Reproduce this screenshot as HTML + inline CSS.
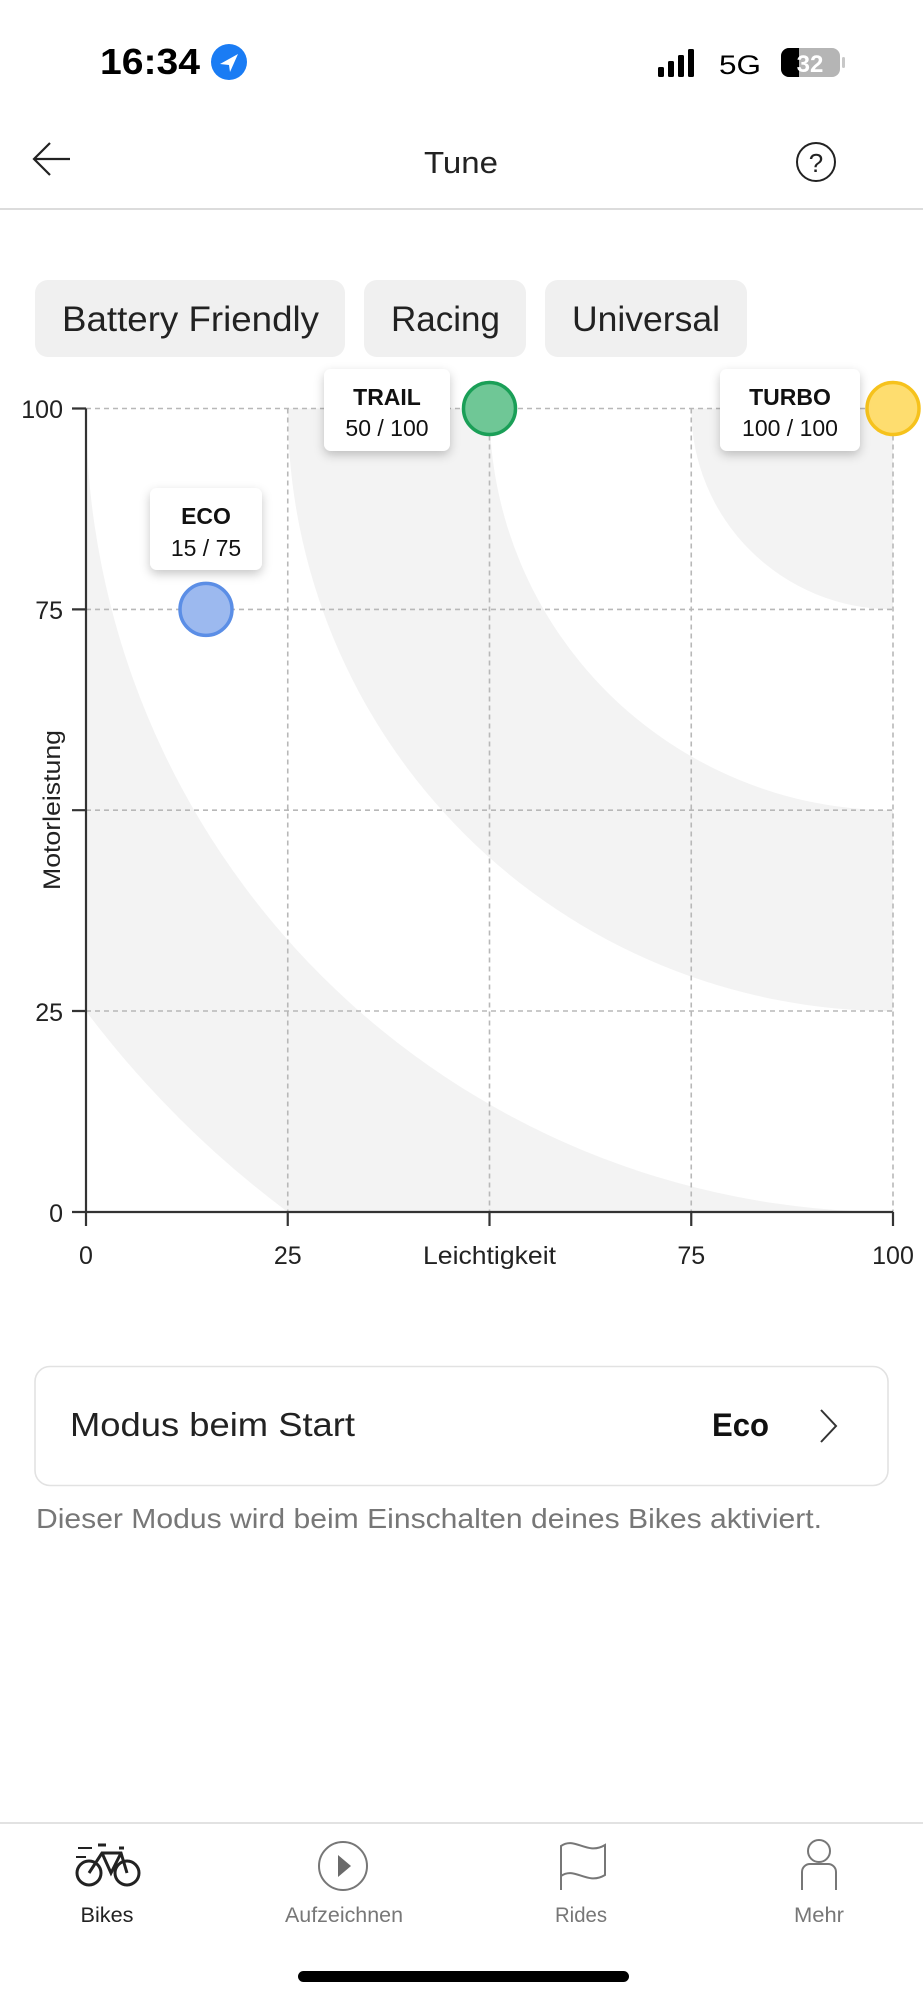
<!DOCTYPE html>
<html><head><meta charset="utf-8"><style>
html,body{margin:0;padding:0;background:#fff;width:923px;height:2000px;overflow:hidden}
svg{display:block}
text{font-family:"Liberation Sans",sans-serif}
</style></head><body>
<svg width="923" height="2000" viewBox="0 0 923 2000" xmlns="http://www.w3.org/2000/svg">
<defs>
<clipPath id="pc"><rect x="86" y="408.5" width="807" height="803.5"/></clipPath>
<filter id="sh" x="-30%" y="-30%" width="160%" height="170%"><feDropShadow dx="0" dy="4" stdDeviation="5" flood-color="#000" flood-opacity="0.22"/></filter>
</defs>
<!-- status bar -->
<text x="100" y="74" font-size="36" font-weight="bold" fill="#000" textLength="100" lengthAdjust="spacingAndGlyphs">16:34</text>
<circle cx="229" cy="62" r="18" fill="#1a7cf4"/>
<path d="M220 64 L238 54 L230 72 L229 65 Z" fill="#fff"/>
<rect x="658" y="67" width="6" height="10" rx="1.5" fill="#000"/>
<rect x="668" y="61" width="6" height="16" rx="1.5" fill="#000"/>
<rect x="678" y="55" width="6" height="22" rx="1.5" fill="#000"/>
<rect x="688" y="49" width="6" height="28" rx="1.5" fill="#000"/>
<text x="719" y="74" font-size="27" fill="#000" textLength="42" lengthAdjust="spacingAndGlyphs">5G</text>
<rect x="781" y="48" width="59" height="29" rx="8" fill="#b5b5b5"/>
<path d="M789 48 H799 V77 H789 A8 8 0 0 1 781 69 V56 A8 8 0 0 1 789 48Z" fill="#000"/>
<text x="810" y="72" font-size="24" font-weight="bold" fill="#fff" text-anchor="middle">32</text>
<rect x="842" y="57" width="3" height="11" rx="1.5" fill="#c8c8c8"/>
<!-- header -->
<path d="M70 159 H34 M50 143 L34 159 L50 175" stroke="#222" stroke-width="2.2" fill="none"/>
<text x="461" y="173" font-size="31" fill="#222" text-anchor="middle" textLength="74" lengthAdjust="spacingAndGlyphs">Tune</text>
<circle cx="816" cy="162" r="19" stroke="#222" stroke-width="2" fill="none"/>
<text x="816" y="172" font-size="26" fill="#222" text-anchor="middle">?</text>
<rect x="0" y="208" width="923" height="2" fill="#dcdcdc"/>
<!-- chips -->
<rect x="35" y="280" width="310" height="77" rx="13" fill="#f0f0f0"/>
<rect x="364" y="280" width="162" height="77" rx="13" fill="#f0f0f0"/>
<rect x="545" y="280" width="202" height="77" rx="13" fill="#f0f0f0"/>
<text x="62" y="331" font-size="35" fill="#222" textLength="257" lengthAdjust="spacingAndGlyphs">Battery Friendly</text>
<text x="391" y="331" font-size="35" fill="#222" textLength="109" lengthAdjust="spacingAndGlyphs">Racing</text>
<text x="572" y="331" font-size="35" fill="#222" textLength="148" lengthAdjust="spacingAndGlyphs">Universal</text>
<!-- bands -->
<g clip-path="url(#pc)" fill="#f3f3f3" fill-rule="evenodd">
<path d="M893 408.5 m-1008.75 0 a1008.75 1004.4 0 1 0 2017.5 0 a1008.75 1004.4 0 1 0 -2017.5 0 Z M893 408.5 m-807 0 a807 803.5 0 1 0 1614 0 a807 803.5 0 1 0 -1614 0 Z"/>
<path d="M893 408.5 m-605.25 0 a605.25 602.6 0 1 0 1210.5 0 a605.25 602.6 0 1 0 -1210.5 0 Z M893 408.5 m-403.5 0 a403.5 401.75 0 1 0 807 0 a403.5 401.75 0 1 0 -807 0 Z"/>
<ellipse cx="893" cy="408.5" rx="201.75" ry="200.9"/>
</g>
<!-- grid -->
<g stroke="#b8b8b8" stroke-width="1.6" stroke-dasharray="5 4" fill="none">
<path d="M86 408.5 H893 M86 609.4 H893 M86 810.2 H893 M86 1011 H893"/>
<path d="M287.75 408.5 V1212 M489.5 408.5 V1212 M691.25 408.5 V1212 M893 408.5 V1212"/>
</g>
<!-- axes -->
<g stroke="#333" stroke-width="2.2" fill="none">
<path d="M86 408.5 V1212 H893"/>
<path d="M72 408.5 H86 M72 609.4 H86 M72 810.2 H86 M72 1011 H86 M72 1212 H86"/>
<path d="M86 1212 V1226 M287.75 1212 V1226 M489.5 1212 V1226 M691.25 1212 V1226 M893 1212 V1226"/>
</g>
<g font-size="25" fill="#222">
<text x="63" y="418" text-anchor="end">100</text>
<text x="63" y="619" text-anchor="end">75</text>
<text x="63" y="1021" text-anchor="end">25</text>
<text x="63" y="1222" text-anchor="end">0</text>
<text x="86" y="1264" text-anchor="middle">0</text>
<text x="287.75" y="1264" text-anchor="middle">25</text>
<text x="489.5" y="1264" text-anchor="middle" textLength="133" lengthAdjust="spacingAndGlyphs">Leichtigkeit</text>
<text x="691.25" y="1264" text-anchor="middle">75</text>
<text x="893" y="1264" text-anchor="middle">100</text>
</g>
<text transform="translate(60 810) rotate(-90)" font-size="24" fill="#222" text-anchor="middle" textLength="160" lengthAdjust="spacingAndGlyphs">Motorleistung</text>
<!-- points -->
<circle cx="206" cy="609.4" r="26" fill="#9cb9ef" stroke="#5b8ee6" stroke-width="3.5"/>
<circle cx="489.5" cy="408.5" r="26" fill="#6fc796" stroke="#1a9f57" stroke-width="3.5"/>
<circle cx="893" cy="408.5" r="26" fill="#fedd6f" stroke="#f6c21c" stroke-width="3.5"/>
<!-- tooltips -->
<g filter="url(#sh)" fill="#fff">
<rect x="150" y="488" width="112" height="82" rx="7"/>
<rect x="324" y="369" width="126" height="82" rx="7"/>
<rect x="720" y="369" width="140" height="82" rx="7"/>
</g>
<g font-size="23" fill="#111" text-anchor="middle">
<text x="206" y="524" font-weight="bold">ECO</text>
<text x="206" y="556">15 / 75</text>
<text x="387" y="405" font-weight="bold">TRAIL</text>
<text x="387" y="436">50 / 100</text>
<text x="790" y="405" font-weight="bold">TURBO</text>
<text x="790" y="436">100 / 100</text>
</g>
<!-- card -->
<rect x="35" y="1366.5" width="853" height="119" rx="15" fill="#fff" stroke="#e2e2e2" stroke-width="1.6"/>
<text x="70" y="1436" font-size="33" fill="#222" textLength="285" lengthAdjust="spacingAndGlyphs">Modus beim Start</text>
<text x="712" y="1436" font-size="32" font-weight="bold" fill="#111" textLength="57" lengthAdjust="spacingAndGlyphs">Eco</text>
<path d="M821 1410 L836 1426 L821 1442" stroke="#333" stroke-width="2" fill="none"/>
<text x="36" y="1528" font-size="28" fill="#777" textLength="786" lengthAdjust="spacingAndGlyphs">Dieser Modus wird beim Einschalten deines Bikes aktiviert.</text>
<!-- tab bar -->
<rect x="0" y="1822" width="923" height="2" fill="#e2e2e2"/>
<g stroke="#222" stroke-width="3" fill="none">
<circle cx="89" cy="1873" r="12"/><circle cx="127" cy="1873" r="12"/>
<path d="M89 1873 L102 1853 L121 1853 L127 1873 M102 1853 L111 1873 L121 1853 M98 1845 H106 M119 1848 L124 1848"/>
<path d="M78 1848 H92 M76 1857 H86" stroke-width="2"/>
</g>
<circle cx="343" cy="1866" r="24" stroke="#777" stroke-width="2" fill="none"/>
<path d="M338 1855 L351 1866 L338 1877 Z" fill="#6a6a6a"/>
<path d="M561 1890 V1846 C575 1836 587 1856 605 1845 V1875 C587 1886 575 1866 561 1876" stroke="#777" stroke-width="2" fill="none"/>
<circle cx="819" cy="1851" r="11" stroke="#777" stroke-width="2" fill="none"/>
<path d="M802 1890 V1872 A8 8 0 0 1 810 1864 H828 A8 8 0 0 1 836 1872 V1890" stroke="#777" stroke-width="2" fill="none"/>
<g font-size="21" text-anchor="middle">
<text x="107" y="1922" fill="#222" textLength="53" lengthAdjust="spacingAndGlyphs">Bikes</text>
<text x="344" y="1922" fill="#777" textLength="118" lengthAdjust="spacingAndGlyphs">Aufzeichnen</text>
<text x="581" y="1922" fill="#777" textLength="52" lengthAdjust="spacingAndGlyphs">Rides</text>
<text x="819" y="1922" fill="#777" textLength="50" lengthAdjust="spacingAndGlyphs">Mehr</text>
</g>
<rect x="298" y="1971" width="331" height="11" rx="5.5" fill="#000"/>
</svg>
</body></html>
